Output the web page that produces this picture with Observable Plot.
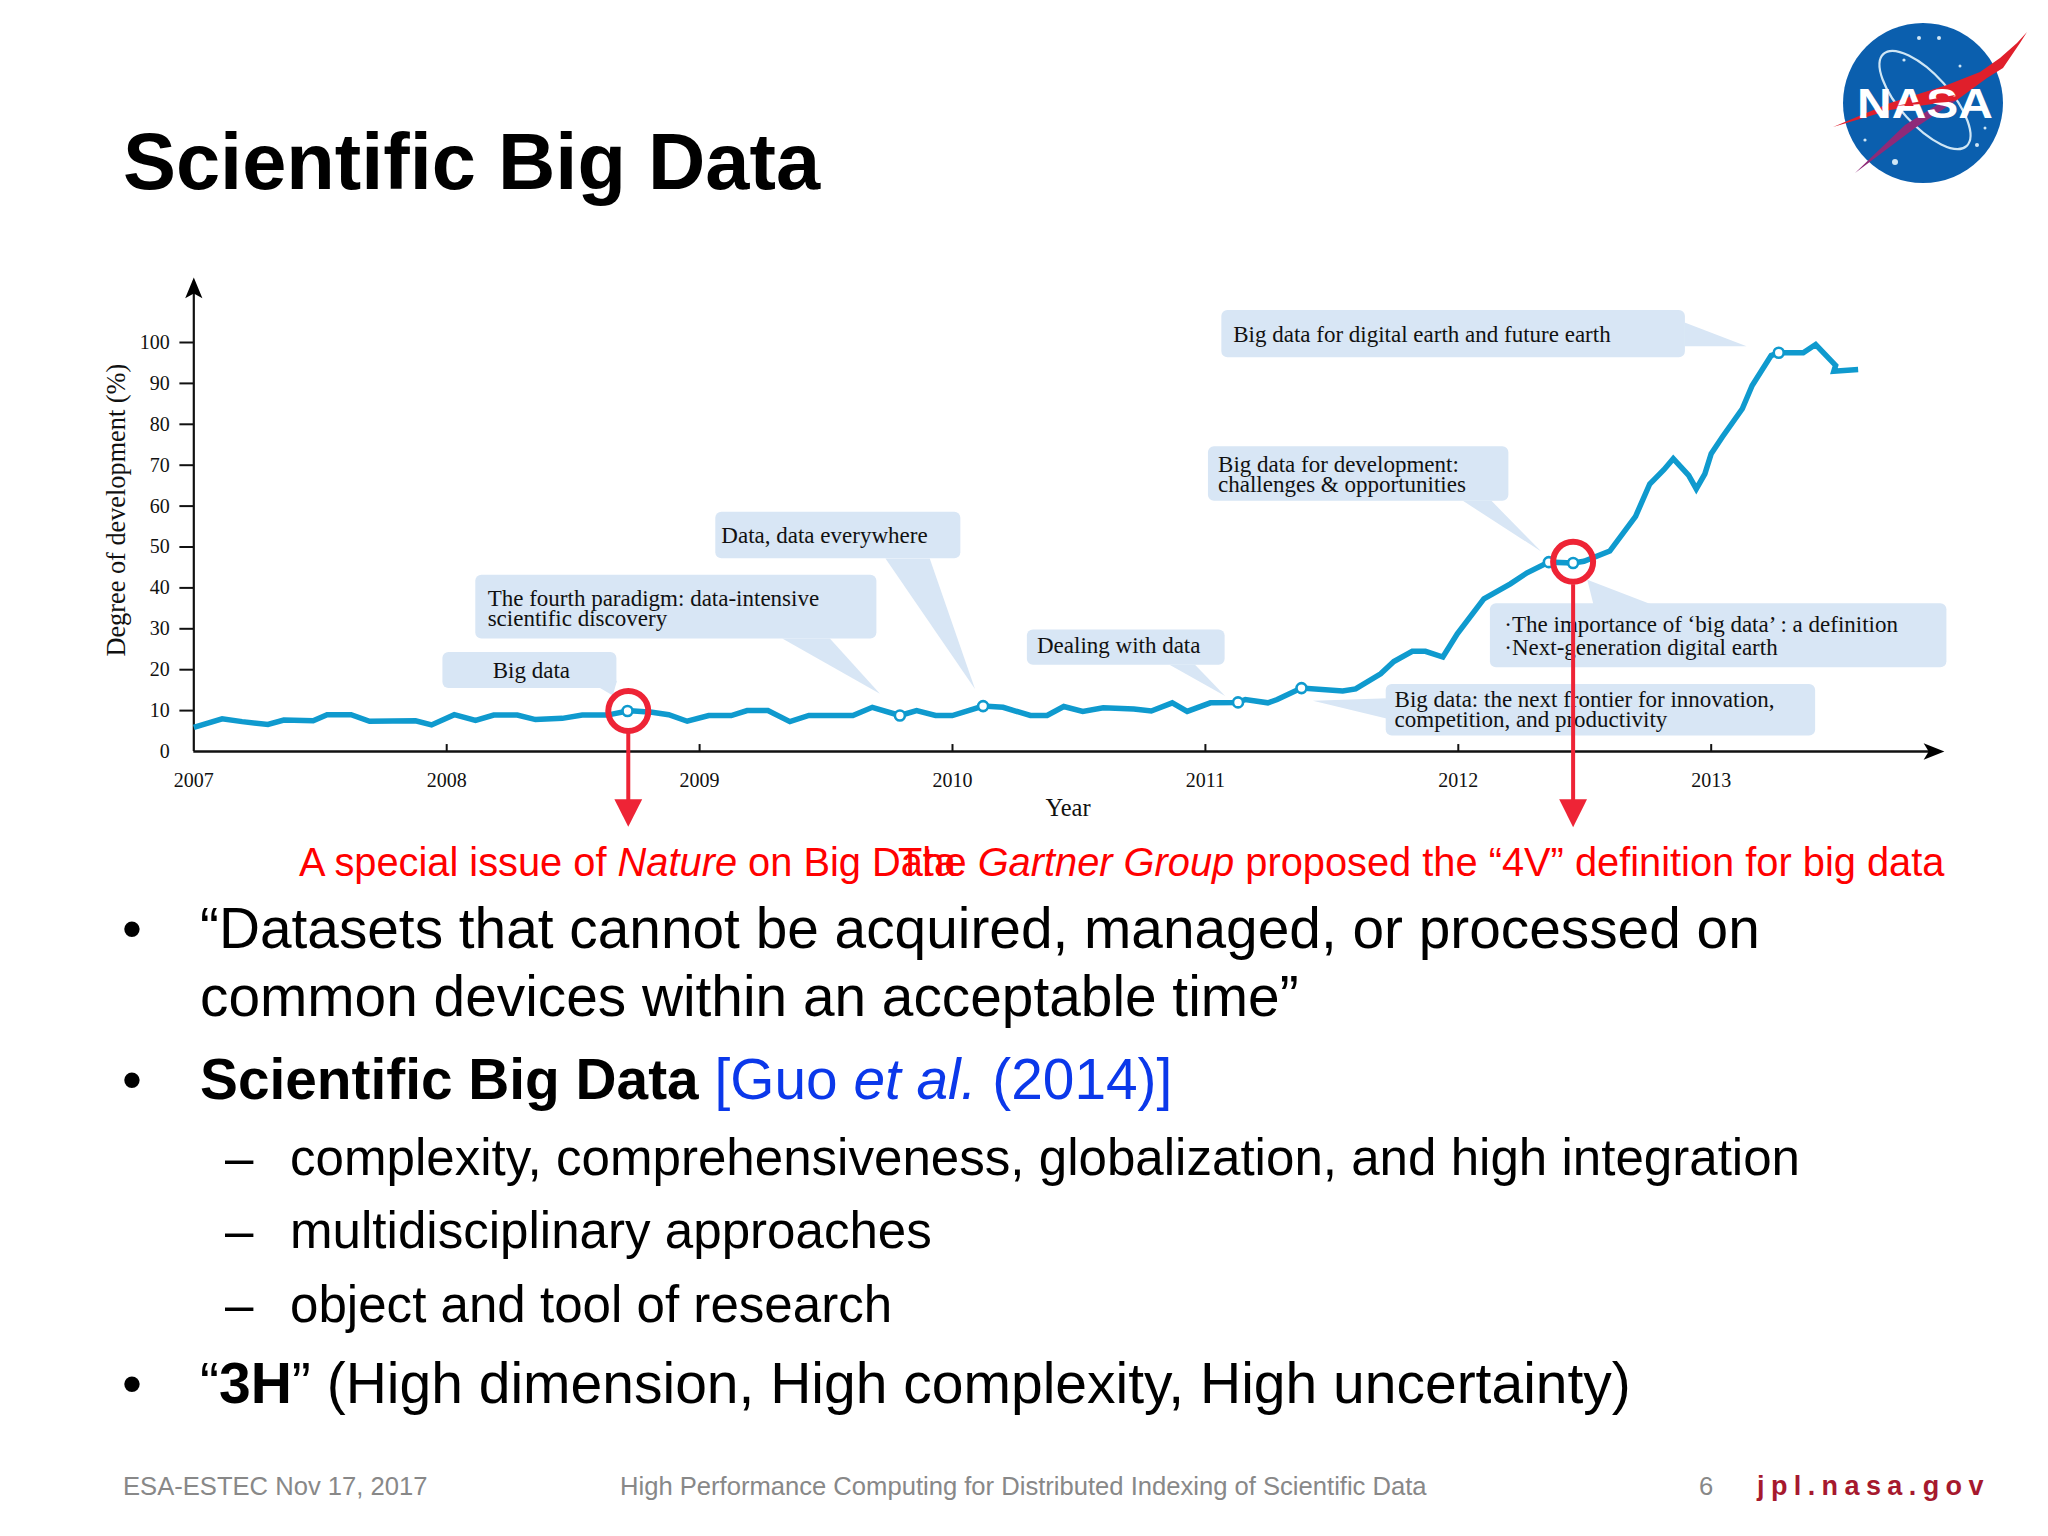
<!DOCTYPE html>
<html><head><meta charset="utf-8">
<script src="https://cdn.jsdelivr.net/npm/d3@7"></script>
<script src="https://cdn.jsdelivr.net/npm/@observablehq/plot@0.6"></script>
<style>
html,body{margin:0;padding:0;background:#fff;}
#page{position:relative;width:2048px;height:1536px;overflow:hidden;background:#fff;font-family:"Liberation Sans",Arial,sans-serif;color:#000;}
.t{position:absolute;white-space:nowrap;line-height:1;}
.t i{font-style:italic}
#chart{position:absolute;left:0;top:0;}
</style></head><body>
<div id="page">
<div id="chart"></div>
<div class="t" style="left:123px;top:122px;font-size:79.4px;font-weight:700">Scientific Big Data</div>
<svg style="position:absolute;left:1823px;top:10px" width="210" height="190" viewBox="1823 10 210 190" role="img" aria-label="NASA logo">
<circle cx="1923" cy="103" r="80" fill="#0b5fae"/>
<ellipse cx="1925" cy="100" rx="25" ry="62" transform="rotate(-42 1925 100)" fill="none" stroke="#cfe6f5" stroke-width="2.2"/>
<g fill="#cfe6f5"><circle cx="1919" cy="38" r="2"/><circle cx="1939" cy="38" r="2"/><circle cx="1904" cy="60" r="1.6"/><circle cx="1895" cy="162" r="3"/><circle cx="1977" cy="145" r="2"/><circle cx="1865" cy="140" r="1.6"/><circle cx="1960" cy="66" r="1.5"/><circle cx="1985" cy="128" r="1.5"/></g>
<path d="M1957 100 L1915 128 L1855 173 L1905 125 L1945 100 Z" fill="#8f2a78"/>
<path d="M2027 32 L2017 43 L2000 58 L1980 72 L1947 85 L1890 103 L1833 127 L1890 110 L1947 102 L1957 100 L1987 78 L2003 68 L2020 43 Z" fill="#e01f2b"/>
<text x="1925" y="118" text-anchor="middle" font-family="Liberation Sans" font-weight="700" font-size="43" textLength="136" lengthAdjust="spacingAndGlyphs" fill="#fff">NASA</text>
<path d="M1955 95 L1895 106 L1948 102 Z" fill="#e01f2b"/>
</svg>
<div class="t" style="left:299px;top:843px;font-size:39.8px;color:#f00">A special issue of <i>Nature</i> on Big Data</div>
<div class="t" style="left:898px;top:843px;font-size:39.8px;color:#f00">The <i>Gartner Group</i> proposed the “4V” definition for big data</div>
<div class="t" style="left:122px;top:901px;font-size:56.8px">•</div>
<div class="t" style="left:200px;top:901px;font-size:56.8px">“Datasets that cannot be acquired, managed, or processed on</div>
<div class="t" style="left:200px;top:969px;font-size:56.8px">common devices within an acceptable time”</div>
<div class="t" style="left:122px;top:1052px;font-size:56.8px">•</div>
<div class="t" style="left:200px;top:1052px;font-size:56.8px"><b>Scientific Big Data</b> <span style="color:#0b38ea">[Guo <i>et al.</i> (2014)]</span></div>
<div class="t" style="left:225px;top:1132px;font-size:51.1px">–</div>
<div class="t" style="left:290px;top:1132px;font-size:51.1px">complexity, comprehensiveness, globalization, and high integration</div>
<div class="t" style="left:225px;top:1205px;font-size:51.1px">–</div>
<div class="t" style="left:290px;top:1205px;font-size:51.1px">multidisciplinary approaches</div>
<div class="t" style="left:225px;top:1279px;font-size:51.1px">–</div>
<div class="t" style="left:290px;top:1279px;font-size:51.1px">object and tool of research</div>
<div class="t" style="left:122px;top:1355px;font-size:57px">•</div>
<div class="t" style="left:200px;top:1355px;font-size:57px">“<b>3H</b>” (High dimension, High complexity, High uncertainty)</div>
<div class="t" style="left:123px;top:1474px;font-size:25.6px;color:#888">ESA-ESTEC Nov 17, 2017</div>
<div class="t" style="left:620px;top:1474px;font-size:25.6px;color:#888">High Performance Computing for Distributed Indexing of Scientific Data</div>
<div class="t" style="left:1699px;top:1474px;font-size:25.6px;color:#888">6</div>
<div class="t" style="left:1757px;top:1473px;font-size:27px;font-weight:700;color:#a6192e;letter-spacing:6.4px">jpl.nasa.gov</div>
</div>
<script>
// Series
const years = [2007,2007.112,2007.191,2007.293,2007.356,2007.472,2007.527,2007.622,2007.695,2007.877,2007.94,2008.03,2008.114,2008.186,2008.279,2008.351,2008.457,2008.536,2008.635,2008.715,2008.74,2008.812,2008.878,2008.951,2009.036,2009.125,2009.188,2009.27,2009.357,2009.432,2009.606,2009.683,2009.792,2009.858,2009.933,2009.999,2010.121,2010.2,2010.308,2010.374,2010.44,2010.515,2010.596,2010.717,2010.786,2010.869,2010.928,2011.02,2011.129,2011.158,2011.247,2011.284,2011.38,2011.543,2011.594,2011.693,2011.745,2011.818,2011.87,2011.939,2011.996,2012.101,2012.206,2012.272,2012.358,2012.454,2012.497,2012.599,2012.701,2012.757,2012.813,2012.85,2012.911,2012.941,2012.975,2013,2013.044,2013.123,2013.162,2013.237,2013.267,2013.364,2013.413,2013.492,2013.485,2013.581];
const degree = [5.9,8,7.3,6.6,7.7,7.5,9,9,7.4,7.5,6.5,9,7.6,8.9,8.9,7.8,8.1,8.9,8.9,9.9,9.9,9.6,9,7.4,8.8,8.8,10,10,7.3,8.8,8.8,10.8,8.8,10,8.8,8.8,11.1,10.8,8.8,8.8,11,9.8,10.7,10.4,9.9,11.9,9.8,11.9,12,12.7,11.9,12.7,15.5,14.8,15.3,19,22,24.5,24.5,23.1,28.8,37.3,41,43.7,46.3,46.1,46.5,49,57.5,65.4,68.9,71.6,67.5,64.2,67.9,72.8,76.9,83.8,89.5,96.8,97.5,97.5,99.5,94.4,93,93.4];
const markerYears = [2008.715,2009.792,2010.121,2011.129,2011.38,2012.358,2012.454,2013.267];
const markerDegree = [9.9,8.8,11.1,12,15.5,46.3,46.1,97.5];
const tickYears = [2007,2008,2009,2010,2011,2012,2013];
const tickPercent = [0,10,20,30,40,50,60,70,80,90,100];
const highlightYears = [2008.718,2012.454];
const highlightDegree = [9.9,46.4];

// Callout boxes: [year1, year2, percent1, percent2]
const boxes = [
 [2007.985,2008.673,15.4,24.2],[2008.115,2009.701,27.5,43.1],[2009.064,2010.033,47.1,58.5],
 [2010.296,2011.078,21.1,29.7],[2011.715,2013.413,3.8,16.4],[2012.127,2013.932,20.5,36.1],
 [2011.012,2012.2,61.2,74.5],[2011.065,2012.898,96.3,107.8]];
// Callout tails, as year/percent triangles
const tails = [
 [[2008.601,15.7],[2008.657,13.7],[2008.673,17.3]],
 [[2009.327,27.6],[2009.515,27.6],[2009.713,14.1]],
 [[2009.735,47.2],[2009.91,47.2],[2010.089,15.3]],
 [[2010.858,21.2],[2010.959,21.2],[2011.078,13.6]],
 [[2011.425,12.4],[2011.72,13],[2011.72,8]],
 [[2012.51,42],[2012.534,36],[2012.762,36]],
 [[2012.018,61.3],[2012.131,61.3],[2012.328,48.9]],
 [[2012.895,104.9],[2013.14,99.1],[2012.895,99.1]]];
const calloutText = ["Big data","The fourth paradigm: data-intensive","scientific discovery","Data, data everywhere","Dealing with data","Big data: the next frontier for innovation,","competition, and productivity","·The importance of ‘big data’ : a definition","·Next-generation digital earth","Big data for development:","challenges & opportunities","Big data for digital earth and future earth"];
const calloutYear = [2008.182,2008.162,2008.162,2009.086,2010.334,2011.748,2011.748,2012.182,2012.182,2011.05,2011.05,2011.11];
const calloutPercent = [19.8,37.5,32.6,52.9,26,12.7,7.8,31,25.3,70.2,65.3,102];

// Axis arrowheads and the red pointers, in year/percent
const axisEnd = [2013.9,115];
const arrowheads = [
 [[2007,115.9],[2007.034,110.8],[2007,112],[2006.966,110.8]],
 [[2013.922,0],[2013.84,2],[2013.86,0],[2013.84,-2]]];
const pointers = [
 [[2008.718,-18.4],[2008.773,-11.7],[2008.663,-11.7]],
 [[2012.454,-18.5],[2012.509,-11.7],[2012.399,-11.7]]];
const pointerTop = [4.5,40.8];
const pointerBottom = [-12,-12];

const series = years.map((x,i)=>({x,y:degree[i]}));
const polys = (list)=>list.flatMap((p,id)=>p.map(([x,y])=>({id,x,y})));
const serif = "'Liberation Serif','Times New Roman',serif";
const boxFill = "#d8e6f5";

const plot = Plot.plot({
  width:2048, height:900,
  marginLeft:193.3, marginRight:84.4, marginTop:342, marginBottom:149,
  x:{domain:[2007,2014]}, y:{domain:[0,100]},
  style:{background:"transparent",overflow:"visible",fontFamily:serif,fontSize:"20px",color:"#111"},
  marks:[
    Plot.rect(boxes,{x1:d=>d[0],x2:d=>d[1],y1:d=>d[2],y2:d=>d[3],fill:boxFill,r:6}),
    Plot.line(polys(tails),{x:"x",y:"y",z:"id",fill:boxFill,stroke:null}),
    Plot.text(calloutText,{x:(d,i)=>calloutYear[i],y:(d,i)=>calloutPercent[i],text:d=>d,textAnchor:"start",fontSize:23,fill:"#111"}),
    Plot.axisX({ticks:tickYears,tickFormat:"d",tickSize:0,tickPadding:21,label:null,fontSize:20,fill:"#111"}),
    Plot.axisY({ticks:tickPercent,tickSize:0,tickPadding:24,label:null,fontSize:20,fill:"#111"}),
    Plot.ruleX(tickYears.slice(1),{x:d=>d,y1:0,y2:1.7,stroke:"#111",strokeWidth:2}),
    Plot.ruleY(tickPercent.slice(1),{y:d=>d,x1:2006.945,x2:2007,stroke:"#111",strokeWidth:2}),
    Plot.ruleX([2007],{y1:0,y2:axisEnd[1],stroke:"#111",strokeWidth:2.2}),
    Plot.ruleY([0],{x1:2007,x2:axisEnd[0],stroke:"#111",strokeWidth:2.6}),
    Plot.line(polys(arrowheads),{x:"x",y:"y",z:"id",fill:"#000",stroke:null}),
    Plot.text(["Year"],{x:2010.457,y:-13.9,text:d=>d,fontSize:24.5,fill:"#111"}),
    Plot.text(["Degree of development (%)"],{x:2006.693,y:59,text:d=>d,rotate:-90,fontSize:26.3,fill:"#111"}),
    Plot.line(series,{x:"x",y:"y",stroke:"#0f9ace",strokeWidth:5.5,strokeLinejoin:"miter",strokeLinecap:"butt",strokeMiterlimit:4}),
    Plot.dot(markerYears,{x:d=>d,y:(d,i)=>markerDegree[i],r:5,fill:"#fff",stroke:"#0f9ace",strokeWidth:2.6}),
    Plot.dot(highlightYears,{x:d=>d,y:(d,i)=>highlightDegree[i],r:20,fill:"none",stroke:"#ee2436",strokeWidth:6}),
    Plot.ruleX(highlightYears,{x:d=>d,y1:(d,i)=>pointerTop[i],y2:(d,i)=>pointerBottom[i],stroke:"#ee2436",strokeWidth:4}),
    Plot.line(polys(pointers),{x:"x",y:"y",z:"id",fill:"#ee2436",stroke:null})
  ]
});
document.getElementById("chart").appendChild(plot);
</script>
</body></html>
